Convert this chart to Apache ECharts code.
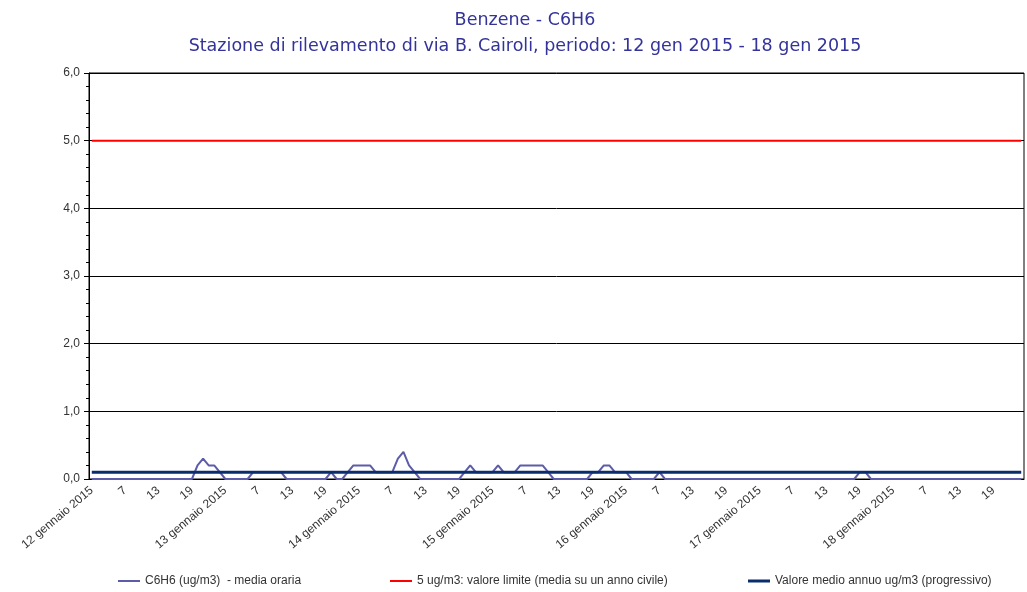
<!DOCTYPE html>
<html>
<head>
<meta charset="utf-8">
<script src="https://cdn.jsdelivr.net/npm/echarts@6/dist/echarts.min.js"></script>
<style>
  html, body { margin: 0; padding: 0; background: #fff; }
  #main { width: 1027px; height: 592px; }
</style>
</head>
<body>
<div id="main"></div>
<script>
// giorni del periodo (etichetta alla prima ora di ogni giorno)
const days = ['12 gennaio 2015', '13 gennaio 2015', '14 gennaio 2015', '15 gennaio 2015',
  '16 gennaio 2015', '17 gennaio 2015', '18 gennaio 2015'];

// C6H6 media oraria (ug/m3), 24 valori per giorno
const day12 = [0,0,0,0,0,0,0,0,0,0,0,0,0,0,0,0,0,0,0,0.2,0.3,0.2,0.2,0.1];
const day13 = [0,0,0,0,0,0.1,0.1,0.1,0.1,0.1,0.1,0,0,0,0,0,0,0,0,0.1,0,0,0.1,0.2];
const day14 = [0.2,0.2,0.2,0.1,0.1,0.1,0.1,0.3,0.4,0.2,0.1,0,0,0,0,0,0,0,0,0.1,0.2,0.1,0.1,0.1];
const day15 = [0.1,0.2,0.1,0.1,0.1,0.2,0.2,0.2,0.2,0.2,0.1,0,0,0,0,0,0,0,0.1,0.1,0.2,0.2,0.1,0.1];
const day16 = [0.1,0,0,0,0,0,0.1,0,0,0,0,0,0,0,0,0,0,0,0,0,0,0,0,0];
const day17 = [0,0,0,0,0,0,0,0,0,0,0,0,0,0,0,0,0,0,0.1,0.1,0,0,0,0];
const day18 = [0,0,0,0,0,0,0,0,0,0,0,0,0,0,0,0,0,0,0,0,0,0,0,0];

const limitValue = 5;     // valore limite
const annualMean = 0.1;   // valore medio annuo (progressivo)

const hourly = [].concat(day12, day13, day14, day15, day16, day17, day18);

const categories = [];
days.forEach(function (d) {
  for (let h = 1; h <= 24; h++) categories.push(h === 1 ? d : String(h));
});
const limitLine = categories.map(function () { return limitValue; });
const meanLine = categories.map(function () { return annualMean; });

const names = ['C6H6 (ug/m3)  - media oraria',
  '5 ug/m3: valore limite (media su un anno civile)',
  'Valore medio annuo ug/m3 (progressivo)'];

let myChart = echarts.init(document.getElementById('main'));
const legendText = { fontFamily: 'Liberation Sans', fontSize: 12, color: '#333' };

myChart.setOption({
  animation: false,
  title: {
    text: 'Benzene - C6H6\nStazione di rilevamento di via B. Cairoli, periodo: 12 gen 2015 - 18 gen 2015',
    left: 520,
    top: 2,
    textAlign: 'center',
    textStyle: {
      fontFamily: 'DejaVu Sans',
      fontWeight: 'normal',
      fontSize: 17.5,
      lineHeight: 26,
      color: '#33339a'
    }
  },
  legend: [
    { data: [names[0]], left: 113, top: 570, icon: 'rect', itemWidth: 22, itemHeight: 2, itemGap: 2, textStyle: legendText },
    { data: [names[1]], left: 385, top: 570, icon: 'rect', itemWidth: 22, itemHeight: 2, itemGap: 2, textStyle: legendText },
    { data: [names[2]], left: 743, top: 570, icon: 'rect', itemWidth: 22, itemHeight: 3, itemGap: 2, textStyle: legendText }
  ],
  grid: {
    left: 89, right: 3, top: 73, bottom: 113,
    show: true, borderColor: '#000', borderWidth: 1, backgroundColor: 'transparent'
  },
  xAxis: {
    type: 'category',
    data: categories,
    boundaryGap: true,
    axisLine: { lineStyle: { color: '#000', width: 1 } },
    axisTick: { interval: 5, length: 5, lineStyle: { color: '#000' } },
    axisLabel: {
      interval: 5,
      rotate: 40,
      margin: 10,
      fontFamily: 'Liberation Sans',
      fontSize: 12,
      color: '#333'
    },
    splitLine: { show: false }
  },
  yAxis: {
    type: 'value',
    min: 0,
    max: 6,
    interval: 1,
    axisLine: { show: true, lineStyle: { color: '#000' } },
    axisTick: { show: true, length: 5, lineStyle: { color: '#000' } },
    minorTick: { show: true, splitNumber: 5, length: 3, lineStyle: { color: '#000' } },
    axisLabel: {
      margin: 9,
      fontFamily: 'Liberation Sans',
      fontSize: 12,
      color: '#333',
      formatter: function (v) { return v.toFixed(1).replace('.', ','); }
    },
    splitLine: { show: true, lineStyle: { color: '#000', width: 1 } }
  },
  series: [
    {
      name: names[0], type: 'line', data: hourly, symbol: 'none',
      lineStyle: { color: '#5c5ca8', width: 2 }, itemStyle: { color: '#5c5ca8' }, z: 3
    },
    {
      name: names[1], type: 'line', data: limitLine, symbol: 'none',
      lineStyle: { color: '#ff0000', width: 2 }, itemStyle: { color: '#ff0000' }, z: 2
    },
    {
      name: names[2], type: 'line', data: meanLine, symbol: 'none',
      lineStyle: { color: '#0b2d6b', width: 3 }, itemStyle: { color: '#0b2d6b' }, z: 4
    }
  ]
});
</script>
</body>
</html>
